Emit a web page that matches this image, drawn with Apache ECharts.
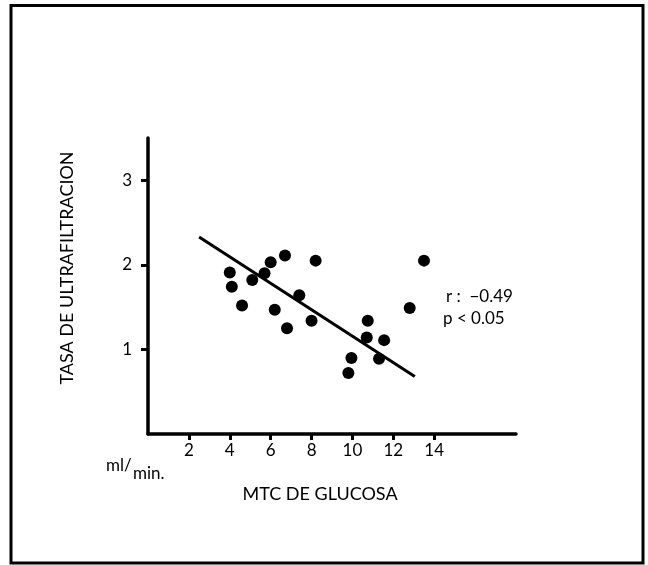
<!DOCTYPE html>
<html>
<head>
<meta charset="utf-8">
<script src="https://cdn.jsdelivr.net/npm/echarts@6/dist/echarts.min.js"></script>
<style>
html,body{margin:0;padding:0;background:#fff;}
#chart{width:648px;height:565px;}
</style>
</head>
<body>
<div id="chart"></div>
<script>
// MTC de glucosa (ml/min) vs tasa de ultrafiltración
var points = [
  [4.0, 1.91], [4.1, 1.74], [4.6, 1.52], [5.1, 1.82], [5.7, 1.90],
  [6.0, 2.03], [6.2, 1.47], [6.7, 2.11], [6.8, 1.25], [7.4, 1.64],
  [8.0, 1.34], [8.2, 2.05], [9.8, 0.72], [9.95, 0.90], [10.75, 1.34],
  [10.7, 1.14], [11.3, 0.89], [11.55, 1.11], [12.8, 1.49], [13.5, 2.05]
];
var regressionLine = [[2.5, 2.33], [13.05, 0.68]];
var xTicks = [2, 4, 6, 8, 10, 12, 14];
var yTicks = [1, 2, 3];
var yAxisTitle = 'TASA DE ULTRAFILTRACION';
var xAxisTitle = 'MTC DE GLUCOSA';
var unitMain = 'ml/';
var unitSub = 'min.';
var statR = 'r :  \u22120.49';
var statP = 'p < 0.05';

var FONT = 'Lato';
var chart = echarts.init(document.getElementById('chart'), null, {renderer: 'canvas'});
chart.setOption({
  backgroundColor: '#ffffff',
  animation: false,
  grid: {left: 148, right: 132, top: 138, bottom: 131},
  xAxis: {
    type: 'value', min: 0, max: 18, interval: 2,
    splitLine: {show: false},
    axisLine: {show: true, onZero: false, lineStyle: {color: '#000', width: 3.5}},
    axisTick: {show: true, customValues: xTicks, length: 6, lineStyle: {color: '#000', width: 3}},
    axisLabel: {show: true, customValues: xTicks, margin: 8, color: '#000', fontFamily: FONT, fontSize: 17}
  },
  yAxis: {
    type: 'value', min: 0, max: 3.5, interval: 1,
    splitLine: {show: false},
    axisLine: {show: true, onZero: false, lineStyle: {color: '#000', width: 3.5}},
    axisTick: {show: true, customValues: yTicks, length: 7, lineStyle: {color: '#000', width: 3}},
    axisLabel: {show: true, customValues: yTicks, margin: 16, color: '#000', fontFamily: FONT, fontSize: 17}
  },
  series: [
    {
      type: 'line', data: regressionLine, symbol: 'none',
      lineStyle: {color: '#000', width: 3}, z: 2
    },
    {
      type: 'scatter', data: points, symbol: 'circle', symbolSize: 12,
      itemStyle: {color: '#000', opacity: 1}, z: 3
    }
  ],
  graphic: [
    {type: 'rect', shape: {x: 11, y: 5.5, width: 632, height: 557.5},
     style: {fill: 'none', stroke: '#000', lineWidth: 3}, silent: true},
    {type: 'text', x: 67, y: 268, rotation: Math.PI / 2,
     style: {text: yAxisTitle, fill: '#000', font: '18px ' + FONT, align: 'center', verticalAlign: 'middle'}},
    {type: 'text', x: 320, y: 494,
     style: {text: xAxisTitle, fill: '#000', font: '18px ' + FONT, align: 'center', verticalAlign: 'middle'}},
    {type: 'text', x: 106, y: 466,
     style: {text: unitMain, fill: '#000', font: '17px ' + FONT, align: 'left', verticalAlign: 'middle'}},
    {type: 'text', x: 133, y: 474,
     style: {text: unitSub, fill: '#000', font: '17px ' + FONT, align: 'left', verticalAlign: 'middle'}},
    {type: 'text', x: 446, y: 297,
     style: {text: statR, fill: '#000', font: '17px ' + FONT, align: 'left', verticalAlign: 'middle'}},
    {type: 'text', x: 443, y: 319,
     style: {text: statP, fill: '#000', font: '17px ' + FONT, align: 'left', verticalAlign: 'middle'}}
  ]
});
</script>
</body>
</html>
